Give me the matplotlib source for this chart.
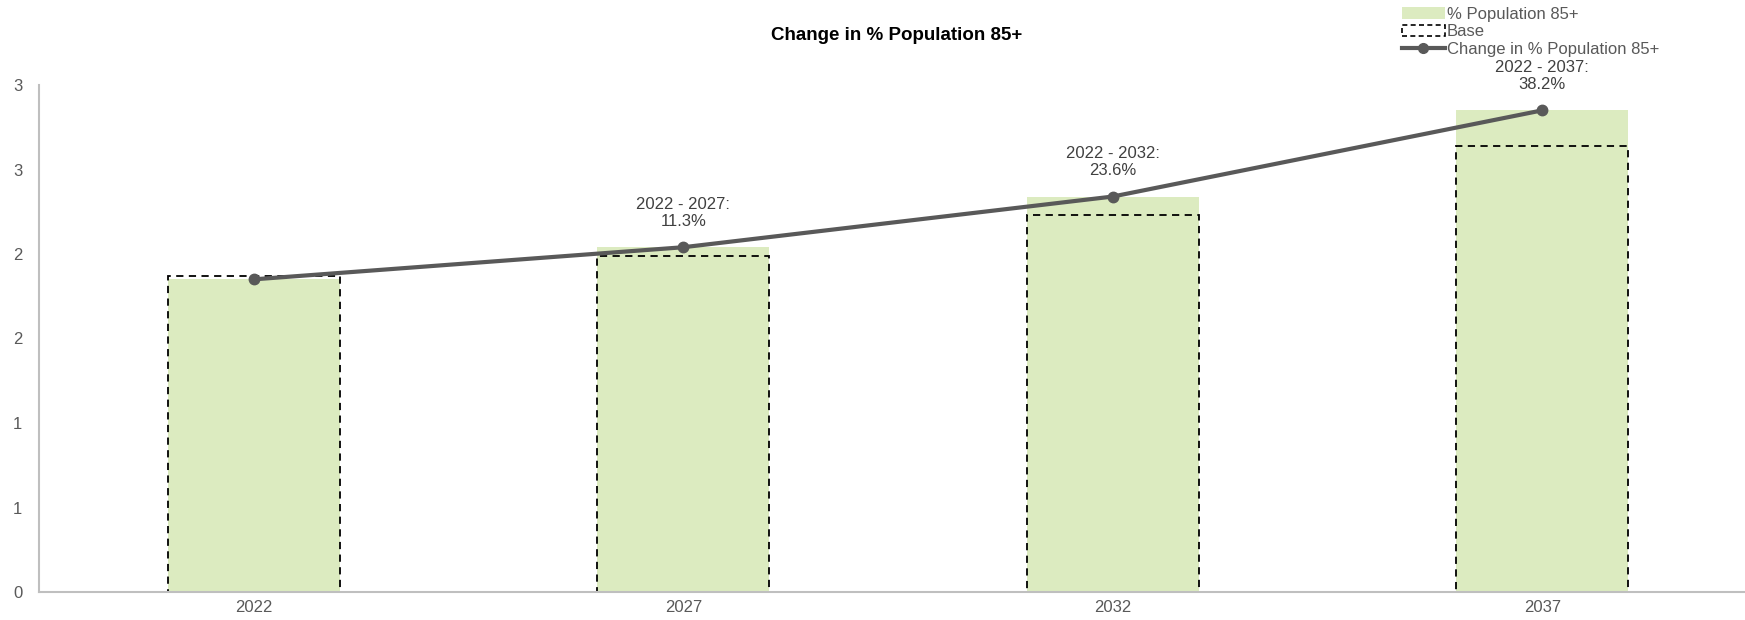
import matplotlib
matplotlib.use("Agg")
import matplotlib.pyplot as plt
from matplotlib.patches import Patch
from matplotlib.lines import Line2D

plt.rcParams["font.family"] = ["Liberation Sans", "DejaVu Sans"]

years = ["2022", "2027", "2032", "2037"]
pct_85 = [1.85, 2.04, 2.34, 2.85]
base = [1.87, 1.99, 2.23, 2.64]
change_labels = ["", "2022 - 2027:\n11.3%", "2022 - 2032:\n23.6%", "2022 - 2037:\n38.2%"]
ytick_vals = [0, 0.5, 1.0, 1.5, 2.0, 2.5, 3.0]
ytick_labels = ["0", "1", "1", "2", "2", "3", "3"]

GREEN = "#dcebc0"
LINE = "#595959"
AXIS = "#bfbfbf"

fig = plt.figure(figsize=(17.45, 6.2), dpi=100)
ax = fig.add_axes([39 / 1745, 28 / 620, 1718 / 1745, 507 / 620])

x = list(range(len(years)))
ax.bar(x, pct_85, width=0.4, color=GREEN, zorder=1)
ax.bar(x, base, width=0.4, fill=False, edgecolor="black", linestyle=(0, (4, 3)),
       linewidth=1.3, zorder=2)
ax.plot(x, pct_85, color=LINE, linewidth=3, marker="o", markersize=7.5, zorder=3)

for xi, yi, lab in zip(x, pct_85, change_labels):
    if lab:
        ax.annotate(lab, (xi, yi), xytext=(0, 13), textcoords="offset points",
                    ha="center", va="bottom", fontsize=12, color="#404040",
                    linespacing=1.2)

ax.set_xlim(-0.5, 3.5)
ax.set_ylim(0, 3)
ax.set_xticks(x)
ax.set_xticklabels(years)
ax.set_yticks(ytick_vals)
ax.set_yticklabels(ytick_labels)
ax.tick_params(length=0, labelsize=12, labelcolor=LINE)
ax.tick_params(axis="x", pad=6)
ax.tick_params(axis="y", pad=12)
for side in ["top", "right"]:
    ax.spines[side].set_visible(False)
for side in ["left", "bottom"]:
    ax.spines[side].set_color(AXIS)
    ax.spines[side].set_linewidth(1.5)

fig.text(897 / 1745, 1 - 36 / 620, "Change in % Population 85+", ha="center",
         va="center", fontsize=13.5, fontweight="bold", color="black")

handles = [
    Patch(facecolor=GREEN, edgecolor="none"),
    Patch(facecolor="none", edgecolor="black", linestyle=(0, (3, 2)), linewidth=1.2),
    Line2D([0], [0], color=LINE, linewidth=3, marker="o", markersize=7),
]
fig.legend(handles, ["% Population 85+", "Base", "Change in % Population 85+"],
           loc="upper left", bbox_to_anchor=(1395 / 1745, 1.0), frameon=False,
           fontsize=12, labelcolor=LINE, handlelength=2.6, handleheight=0.7,
           handletextpad=0.1, labelspacing=0.15, borderaxespad=0)

fig.savefig("out.png", dpi=100)
